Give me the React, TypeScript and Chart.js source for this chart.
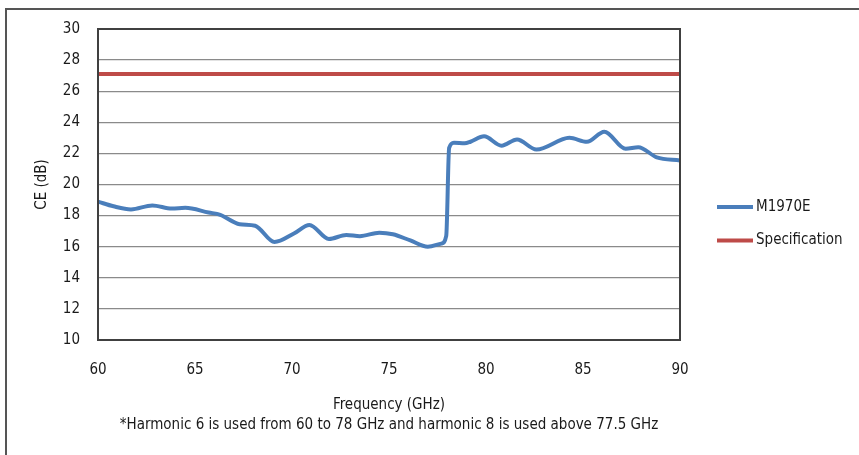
import React, { useEffect, useRef } from "react";
import { Chart, registerables } from "chart.js";

Chart.register(...registerables);

const FONT = "'Liberation Sans Narrow', 'DejaVu Sans Condensed', 'Arial Narrow', sans-serif";

const freqGHz = [
  60, 60.8, 61.7, 62.8, 63.8, 64.5, 65.7, 66.3, 67.3, 68.1, 69.1, 70.1, 70.9,
  71.9, 72.8, 73.5, 74.5, 75.2, 76.1, 77.0, 77.7, 77.95, 78.1, 78.35, 78.9,
  79.2, 79.9, 80.8, 81.6, 82.6, 84.3, 85.2, 86.1, 87.2, 87.85, 88.8, 90,
];
const ceM1970E = [
  18.9, 18.6, 18.4, 18.65, 18.45, 18.5, 18.2, 18.05, 17.45, 17.35, 16.3, 16.85,
  17.4, 16.5, 16.75, 16.68, 16.9, 16.8, 16.4, 16.0, 16.2, 16.7, 22.35, 22.68,
  22.65, 22.75, 23.1, 22.5, 22.9, 22.25, 23.0, 22.75, 23.4, 22.3, 22.4, 21.75,
  21.55,
];
const specFreq = [60, 90];
const specValue = [27.1, 27.1];

const seriesNames = ["M1970E", "Specification"];
const seriesColors = ["#4A7EBB", "#BE4B48"];
const xTitleLines = [
  "Frequency (GHz)",
  "*Harmonic 6 is used from 60 to 78 GHz and harmonic 8 is used above 77.5 GHz",
];
const yTitle = "CE (dB)";

const framePlugin = {
  id: "frame",
  afterDatasetsDraw(chart: any) {
    const { ctx, chartArea } = chart;
    ctx.save();
    ctx.strokeStyle = "#404040";
    ctx.lineWidth = 2;
    ctx.strokeRect(chartArea.left, chartArea.top, chartArea.right - chartArea.left, chartArea.bottom - chartArea.top);
    ctx.restore();
  },
};

const legendPlugin = {
  id: "customLegend",
  afterDraw(chart: any) {
    const { ctx } = chart;
    const x0 = 717;
    const x1 = 753;
    const ys = [207, 240.5];
    ctx.save();
    chart.data.datasets.forEach((ds: any, i: number) => {
      ctx.strokeStyle = ds.borderColor;
      ctx.lineWidth = 4;
      ctx.lineCap = "butt";
      ctx.beginPath();
      ctx.moveTo(x0, ys[i]);
      ctx.lineTo(x1, ys[i]);
      ctx.stroke();
      ctx.fillStyle = "#1a1a1a";
      ctx.font = `15px ${FONT}`;
      ctx.textBaseline = "middle";
      ctx.textAlign = "left";
      ctx.fillText(ds.label, x1 + 3, ys[i]);
    });
    ctx.restore();
  },
};

export default function App() {
  const ref = useRef<HTMLCanvasElement | null>(null);

  useEffect(() => {
    if (!ref.current) return;
    const chart = new Chart(ref.current, {
      type: "line",
      data: {
        datasets: [
          {
            label: seriesNames[0],
            data: freqGHz.map((f, i) => ({ x: f, y: ceM1970E[i] })),
            borderColor: seriesColors[0],
            backgroundColor: seriesColors[0],
            borderWidth: 4,
            pointRadius: 0,
            cubicInterpolationMode: "monotone",
          },
          {
            label: seriesNames[1],
            data: specFreq.map((f, i) => ({ x: f, y: specValue[i] })),
            borderColor: seriesColors[1],
            backgroundColor: seriesColors[1],
            borderWidth: 4,
            pointRadius: 0,
          },
        ],
      },
      options: {
        animation: false,
        responsive: false,
        events: [],
        layout: { padding: { left: 0, top: 29, right: 179, bottom: 0 } },
        plugins: {
          legend: { display: false },
          tooltip: { enabled: false },
        },
        scales: {
          x: {
            type: "linear",
            min: 60,
            max: 90,
            afterFit: (s: any) => {
              s.height = 115;
            },
            grid: { display: false, drawTicks: false },
            border: { display: false },
            ticks: {
              stepSize: 5,
              padding: 21,
              color: "#1a1a1a",
              font: { family: FONT, size: 15, lineHeight: 1.2 },
            },
            title: {
              display: true,
              text: xTitleLines,
              color: "#1a1a1a",
              font: { family: FONT, size: 15, lineHeight: 1.33 },
              padding: { top: 0, bottom: 20 },
            },
          },
          y: {
            min: 10,
            max: 30,
            afterFit: (s: any) => {
              s.width = 98;
            },
            grid: { color: "#8a8a8a", lineWidth: 1.2, drawTicks: false },
            border: { display: false },
            ticks: {
              stepSize: 2,
              padding: 18,
              color: "#1a1a1a",
              font: { family: FONT, size: 15 },
            },
            title: {
              display: true,
              text: yTitle,
              color: "#1a1a1a",
              font: { family: FONT, size: 15, lineHeight: 1.2 },
              padding: { top: 33, bottom: 0 },
            },
          },
        },
      },
      plugins: [framePlugin, legendPlugin],
    } as any);
    return () => chart.destroy();
  }, []);

  return (
    <div style={{ position: "absolute", left: 0, top: 0, width: 859, height: 455, background: "#fff" }}>
      <div
        style={{
          position: "absolute",
          left: 5,
          top: 8,
          width: 854,
          height: 447,
          borderTop: "2px solid #555",
          borderLeft: "2px solid #555",
          boxSizing: "border-box",
        }}
      />
      <canvas ref={ref} width={859} height={455} style={{ position: "absolute", left: 0, top: 0 }} />
    </div>
  );
}
